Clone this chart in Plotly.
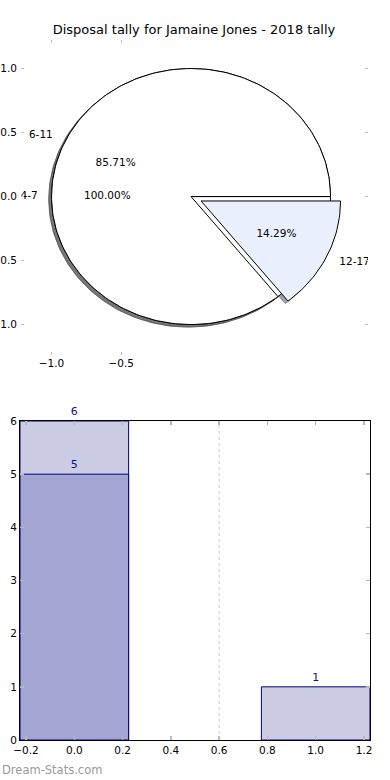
import numpy as np
import plotly.graph_objects as go

# ---------------- data ----------------
title_text = "Disposal tally for Jamaine Jones - 2018 tally"

pie1_labels = ["4-7"]
pie1_values = [1]
pie1_colors = ["#ffffff"]
pie1_explode = [0]

pie2_labels = ["6-11", "12-17"]
pie2_values = [6, 1]
pie2_colors = ["#ffffff", "#eaf0fd"]
pie2_explode = [0, 0.08]

pie_ticks_x = [-1.0, -0.5]
pie_ticks_y = [-1.0, -0.5, 0.0, 0.5, 1.0]

bar_x = [0, 1]
bar_total = [6, 1]
bar_sub_x = [0]
bar_sub = [5]
bar_ticks_x = [-0.2, 0.0, 0.2, 0.4, 0.6, 0.8, 1.0, 1.2]
bar_ticks_y = [0, 1, 2, 3, 4, 5, 6]
divider_x = 0.6

watermark = "Dream-Stats.com"

FONT = "DejaVu Sans"
SHADOW_OFF = -0.02

fig = go.Figure()


def wedge_xy(t1, t2, cx, cy, n=240):
    t = np.radians(np.linspace(t1, t2, max(int(n * (t2 - t1) / 360) + 2, 8)))
    xs = np.concatenate([[cx], cx + np.cos(t), [cx]])
    ys = np.concatenate([[cy], cy + np.sin(t), [cy]])
    return xs, ys


def pie_geometry(values, explode):
    total = float(sum(values))
    out = []
    theta1 = 0.0
    for v, e in zip(values, explode):
        theta2 = theta1 + 360.0 * v / total
        mid = np.radians((theta1 + theta2) / 2)
        cx, cy = e * np.cos(mid), e * np.sin(mid)
        out.append((theta1, theta2, cx, cy, mid, v / total))
        theta1 = theta2
    return out


geo1 = pie_geometry(pie1_values, pie1_explode)
geo2 = pie_geometry(pie2_values, pie2_explode)


def shade(hexcol):
    h = hexcol.lstrip("#")
    r, g, b = (int(h[i:i + 2], 16) for i in (0, 2, 4))
    return "rgba(%d,%d,%d,0.5)" % (0.3 * r, 0.3 * g, 0.3 * b)


# shadows first (all below faces)
for geo, cols in ((geo1, pie1_colors), (geo2, pie2_colors)):
    for (t1, t2, cx, cy, mid, frac), col in zip(geo, cols):
        xs, ys = wedge_xy(t1, t2, cx + SHADOW_OFF, cy + SHADOW_OFF)
        fig.add_trace(go.Scatter(x=xs, y=ys, mode="lines", fill="toself",
                                 fillcolor=shade(col),
                                 line=dict(color=shade(col), width=1),
                                 xaxis="x", yaxis="y", hoverinfo="skip"))

# faces
for geo, cols in ((geo1, pie1_colors), (geo2, pie2_colors)):
    for (t1, t2, cx, cy, mid, frac), col in zip(geo, cols):
        xs, ys = wedge_xy(t1, t2, cx, cy)
        fig.add_trace(go.Scatter(x=xs, y=ys, mode="lines", fill="toself",
                                 fillcolor=col,
                                 line=dict(color="black", width=1),
                                 xaxis="x", yaxis="y", hoverinfo="skip"))

# labels & percentages
for geo, labels in ((geo1, pie1_labels), (geo2, pie2_labels)):
    for (t1, t2, cx, cy, mid, frac), lab in zip(geo, labels):
        xt = cx + 1.1 * np.cos(mid)
        yt = cy + 1.1 * np.sin(mid)
        pos = "middle left" if xt < 0 else "middle right"
        fig.add_trace(go.Scatter(x=[xt], y=[yt], mode="text", text=[lab],
                                 textposition=pos,
                                 textfont=dict(family=FONT, size=10.5, color="black"),
                                 xaxis="x", yaxis="y", hoverinfo="skip"))
        xp = cx + 0.6 * np.cos(mid)
        yp = cy + 0.6 * np.sin(mid)
        fig.add_trace(go.Scatter(x=[xp], y=[yp], mode="text",
                                 text=["%1.2f%%" % (frac * 100)],
                                 textposition="middle center",
                                 textfont=dict(family=FONT, size=10.5, color="black"),
                                 xaxis="x", yaxis="y", hoverinfo="skip"))

# ---------------- bars ----------------
fig.add_trace(go.Bar(x=bar_x, y=bar_total, width=0.45,
                     marker=dict(color="#ccccE5", line=dict(color="#000080", width=1)),
                     text=[str(v) for v in bar_total], textposition="outside",
                     textfont=dict(family=FONT, size=11, color="#10108a"),
                     cliponaxis=False, xaxis="x2", yaxis="y2", hoverinfo="skip"))
fig.add_trace(go.Bar(x=bar_sub_x, y=bar_sub, width=0.45,
                     marker=dict(color="#a3a5d2", line=dict(color="#000080", width=1)),
                     text=[str(v) for v in bar_sub], textposition="outside",
                     textfont=dict(family=FONT, size=11, color="#10108a"),
                     cliponaxis=False, xaxis="x2", yaxis="y2", hoverinfo="skip"))

fig.add_shape(type="line", x0=divider_x, x1=divider_x, y0=0, y1=1,
              xref="x2", yref="y2 domain", layer="below",
              line=dict(color="#c8c8c8", width=1, dash="dot"))

W, H = 390, 780
tickfont = dict(family=FONT, size=10.5, color="black")
pie_axis_common = dict(showgrid=False, zeroline=False, showline=False,
                       ticks="inside", ticklen=3, tickwidth=1.5, tickcolor="#c0c0c0",
                       mirror="ticks", tickformat=".1f", tickfont=tickfont,
                       automargin=False, fixedrange=True)
bar_axis_common = dict(showgrid=False, zeroline=False, showline=True,
                       linecolor="black", linewidth=1,
                       ticks="inside", ticklen=4, tickwidth=1.5, tickcolor="#b8b8b8",
                       mirror="ticks", tickfont=tickfont,
                       automargin=False, fixedrange=True)

fig.update_layout(
    width=W, height=H,
    margin=dict(l=0, r=0, t=0, b=0),
    paper_bgcolor="white", plot_bgcolor="white",
    showlegend=False, barmode="overlay",
    font=dict(family=FONT, size=10.5, color="black"),
    title=dict(text=title_text, x=194 / W, xanchor="center",
               y=1 - 29.5 / H, yanchor="middle",
               font=dict(family=FONT, size=13, color="black")),
    xaxis=dict(domain=[21 / W, 368 / W], range=[-1.219, 1.269],
               tickvals=pie_ticks_x, anchor="y", **pie_axis_common),
    yaxis=dict(domain=[1 - 355 / H, 1 - 40 / H], range=[-1.238, 1.223],
               tickvals=pie_ticks_y, anchor="x", ticklabelstandoff=3,
               **pie_axis_common),
    xaxis2=dict(domain=[20 / W, 370 / W], range=[-0.225, 1.225],
                tickvals=bar_ticks_x, tickformat=".1f", anchor="y2", **bar_axis_common),
    yaxis2=dict(domain=[1 - 740 / H, 1 - 421 / H], range=[0, 6],
                tickvals=bar_ticks_y, anchor="x2", **bar_axis_common),
    annotations=[dict(text=watermark, xref="paper", yref="paper",
                      x=0, xanchor="left", y=1 - 770 / H, yanchor="middle",
                      showarrow=False,
                      font=dict(family=FONT, size=11.5, color="#9a9a9a"))],
)

fig.write_html("out.html",
               config={"displayModeBar": False, "staticPlot": True},
               post_script="document.body.style.margin='0';document.body.style.padding='0';"
                           "document.body.style.overflow='hidden';"
                           "document.documentElement.style.overflow='hidden';")
